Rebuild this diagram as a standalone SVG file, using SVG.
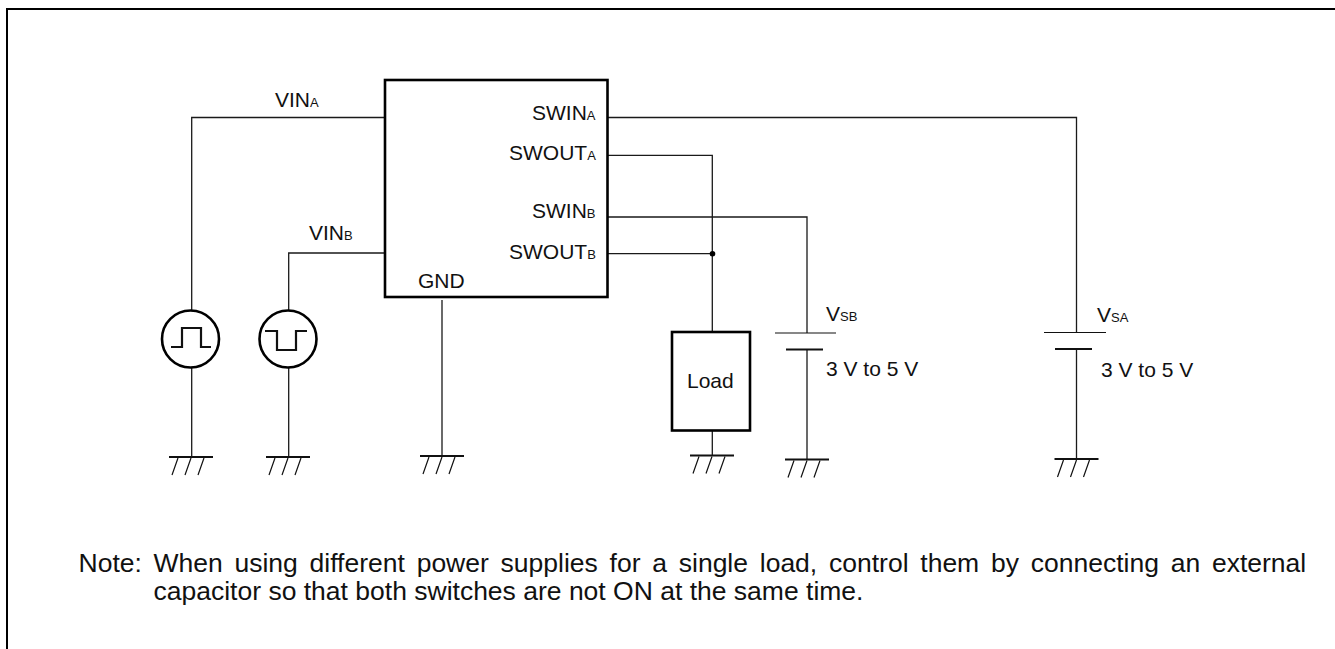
<svg xmlns="http://www.w3.org/2000/svg" width="1335" height="649" viewBox="0 0 1335 649">
<style>
.w{fill:none;stroke:#1a1a1a;stroke-width:1.3}
.b{fill:none;stroke:#000;stroke-width:2.6}
.g{fill:none;stroke:#111;stroke-width:1.2}
.gb{fill:none;stroke:#111;stroke-width:2.2}
text{font-family:"Liberation Sans",Arial,sans-serif;font-size:21px;fill:#111}
.s{font-size:13px}
.n{font-size:26.5px}
</style>
<defs>
<g id="gnd"><path class="gb" d="M-22 0H22"/><path class="g" d="M-19 18L-13 1M-6 18L0 1M7 18L13 1"/></g>
</defs>
<path id="frame" d="M7 649V9H1335" fill="none" stroke="#000" stroke-width="2"/>
<g id="connectors">
<path class="w" d="M385 117.500H191.700V310M191.700 368V457"/>
<path class="w" d="M385 253H288.700V310M288.700 368V457"/>
<path class="w" d="M442 300V455"/>
<path class="w" d="M608 117.500H1076.500V332M1076.500 349V458"/>
<path class="w" d="M608 155.300H712.300V331M712.300 431V455"/>
<path class="w" d="M608 217H807V333M807 349V459"/>
<path class="w" d="M608 253.700H712"/>
<circle cx="712.500" cy="253.700" r="2.800" fill="#000"/>
</g>
<g id="chip"><rect class="b" x="385" y="80" width="222.500" height="217" fill="#fff"/>
<text x="532" y="120">SWIN<tspan class="s">A</tspan></text>
<text x="509" y="160">SWOUT<tspan class="s">A</tspan></text>
<text x="532" y="218">SWIN<tspan class="s">B</tspan></text>
<text x="509" y="259">SWOUT<tspan class="s">B</tspan></text>
<text x="418" y="288">GND</text></g>
<g id="vina-label"><text x="275" y="107">VIN<tspan class="s">A</tspan></text></g>
<g id="vinb-label"><text x="309" y="240">VIN<tspan class="s">B</tspan></text></g>
<g id="source-a"><circle class="b" cx="190.500" cy="339" r="28.500" fill="#fff"/><path class="gb" d="M171 347H182V328H201V347H211"/></g>
<g id="source-b"><circle class="b" cx="288" cy="339" r="28.500" fill="#fff"/><path class="gb" d="M265 331H277V350H296V331H307"/></g>
<g id="load"><rect class="b" x="672" y="332" width="78" height="98.500" fill="#fff"/><text x="687" y="388">Load</text></g>
<g id="battery-b"><path class="g" d="M775 333H836"/><path class="gb" d="M786 349.500H823"/>
<text x="826" y="321">V<tspan class="s">SB</tspan></text><text x="826" y="376">3 V to 5 V</text></g>
<g id="battery-a"><path class="g" d="M1044 332.500H1106"/><path class="gb" d="M1055 349H1092"/>
<text x="1097" y="322">V<tspan class="s">SA</tspan></text><text x="1101" y="377">3 V to 5 V</text></g>
<use id="gnd-1" href="#gnd" x="191" y="457"/>
<use id="gnd-2" href="#gnd" x="288" y="457"/>
<use id="gnd-3" href="#gnd" x="442" y="456"/>
<use id="gnd-4" href="#gnd" x="712" y="455.500"/>
<use id="gnd-5" href="#gnd" x="807" y="459.500"/>
<use id="gnd-6" href="#gnd" x="1076.500" y="459"/>
<g id="note">
<text x="78.500" y="572" class="n">Note:</text>
<text x="153.500" y="572" class="n" word-spacing="4.4">When using different power supplies for a single load, control them by connecting an external</text>
<text x="153.500" y="600" class="n">capacitor so that both switches are not ON at the same time.</text>
</g>
</svg>
